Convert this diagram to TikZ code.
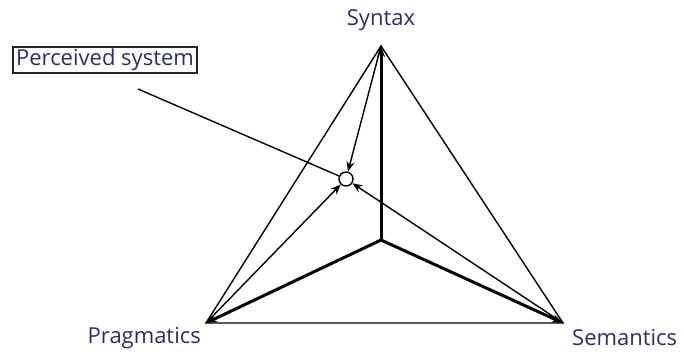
\documentclass[tikz,border=0pt]{standalone}
\usepackage{fontspec}
\setmainfont{Open Sans}
\usepackage{tikz}
\usetikzlibrary{arrows.meta,positioning}
\definecolor{labblue}{RGB}{45,45,110}

\begin{document}
\begin{tikzpicture}[x=1pt, y=-1pt,
    lab/.style={font=\fontsize{22}{26}\selectfont, text=labblue, inner sep=1pt},
    side/.style={line width=1.4pt},
    thk/.style={line width=3pt, -{Stealth[length=11pt, width=8pt]}},
    thn/.style={line width=1.4pt, -{Stealth[length=10pt, width=8pt]}}
]
\useasboundingbox (0,0) rectangle (684,351);
% corners of the triangle
\coordinate (syn) at (381,46);
\coordinate (prag) at (206,323);
\coordinate (sem) at (563,323);
\coordinate (ctr) at (381,240);
\node[draw, circle, line width=1.4pt, minimum size=14pt, inner sep=0pt] (sys) at (346,179) {};

\node[lab] (synlab) at (381,20) {Syntax};
\node[lab, anchor=east] (praglab) at (202,338) {Pragmatics};
\node[lab, anchor=west] (semlab) at (571,338) {Semantics};
\node[lab, draw=black!85, line width=1.8pt, inner xsep=3pt, inner ysep=2pt, minimum height=26pt] (perc) at (105,60) {Perceived system};

\draw[side] (syn) -- (prag) -- (sem) -- cycle;
\draw[thk] (ctr) -- (syn);
\draw[thk] (ctr) -- (prag);
\draw[thk] (ctr) -- (sem);
\draw[thn] (syn) -- (sys);
\draw[thn] (prag) -- (sys);
\draw[thn] (sem) -- (sys);

\coordinate (pstart) at (138,89);
\draw[side] (pstart) -- (sys);
\end{tikzpicture}
\end{document}
